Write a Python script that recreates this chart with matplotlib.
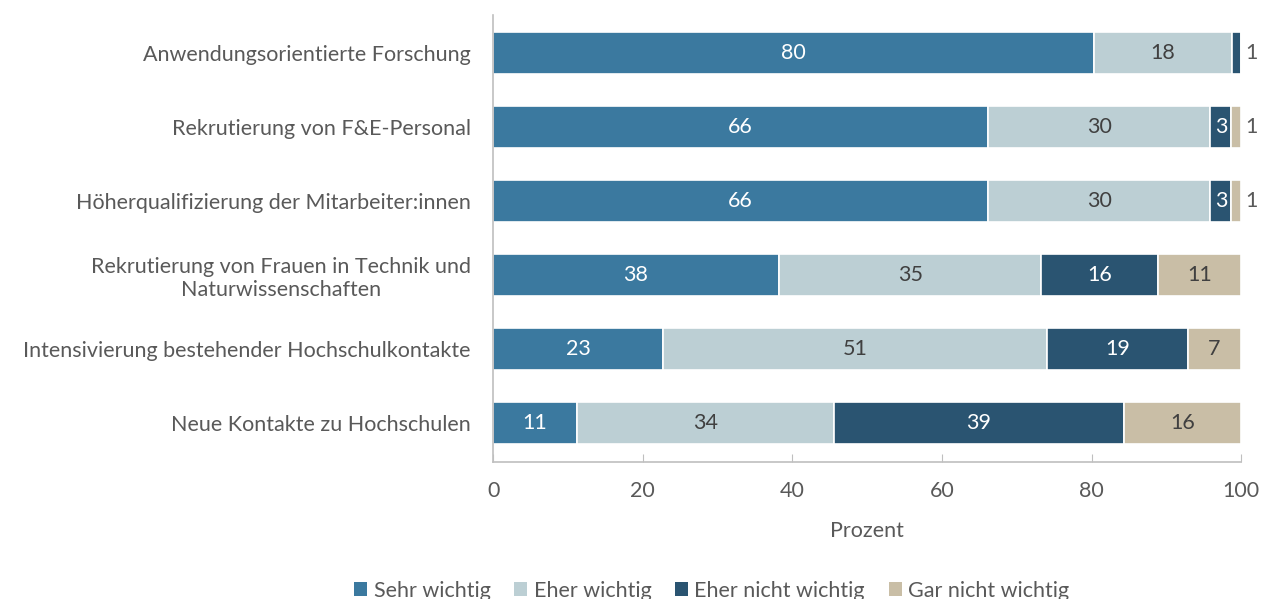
import numpy as np
import matplotlib.pyplot as plt
from matplotlib.patches import Patch

# Daten (Prozent)
kategorien = [
    "Anwendungsorientierte Forschung",
    "Rekrutierung von F&E-Personal",
    "Höherqualifizierung der Mitarbeiter:innen",
    "Rekrutierung von Frauen in Technik und\nNaturwissenschaften",
    "Intensivierung bestehender Hochschulkontakte",
    "Neue Kontakte zu Hochschulen",
]
sehr_wichtig = [80.3, 66.2, 66.2, 38.2, 22.7, 11.2]
eher_wichtig = [18.5, 29.7, 29.7, 35.1, 51.4, 34.4]
eher_nicht_wichtig = [1.2, 2.8, 2.8, 15.6, 18.8, 38.7]
gar_nicht_wichtig = [0.0, 1.3, 1.3, 11.1, 7.1, 15.7]

serien = ["Sehr wichtig", "Eher wichtig", "Eher nicht wichtig", "Gar nicht wichtig"]
farben = ["#3b799f", "#bccfd4", "#2a5471", "#c9bea6"]
textfarben = ["white", "#404040", "white", "#404040"]

plt.rcParams['font.family'] = ['Lato', 'DejaVu Sans']
grau = "#595959"
fs = 15.5

fig = plt.figure(figsize=(12.71, 5.99), dpi=100)
ax = fig.add_axes([0.388, 0.229, 0.5885, 0.746])

y = np.arange(len(kategorien))
links = np.zeros(len(kategorien))
werte = [sehr_wichtig, eher_wichtig, eher_nicht_wichtig, gar_nicht_wichtig]

for i, w in enumerate(werte):
    w = np.array(w)
    ax.barh(y, w, left=links, height=0.57, color=farben[i],
            edgecolor="white", linewidth=1.2)
    for j in range(len(y)):
        if w[j] <= 0:
            continue
        if w[j] < 2:
            # kleine Werte rechts neben den Balken
            ax.text(links[j] + w[j] + 0.6, y[j], "%.0f" % w[j], va="center",
                    ha="left", fontsize=fs, color=grau)
        else:
            ax.text(links[j] + w[j] / 2, y[j], "%.0f" % w[j], va="center",
                    ha="center", fontsize=fs, color=textfarben[i])
    links = links + w

ax.set_ylim(5.53, -0.52)
ax.set_xlim(0, 100)
ax.set_yticks(y)
ax.set_yticklabels(kategorien, fontsize=fs, color=grau, multialignment="center")
ax.tick_params(axis="y", length=0, pad=16)
ax.set_xticks([0, 20, 40, 60, 80, 100])
ax.tick_params(axis="x", direction="in", length=6, color="#bfbfbf",
               labelsize=fs, labelcolor=grau, pad=14)
ax.set_xlabel("Prozent", fontsize=fs, color=grau, labelpad=14)

for s in ["top", "right"]:
    ax.spines[s].set_visible(False)
ax.spines["left"].set_color("#bfbfbf")
ax.spines["bottom"].set_color("#bfbfbf")
ax.spines["left"].set_linewidth(1.2)
ax.spines["bottom"].set_linewidth(1.2)

handles = [Patch(facecolor=farben[i], edgecolor="none") for i in range(4)]
leg = fig.legend(handles, serien, loc="lower center", bbox_to_anchor=(0.56, -0.035),
                 ncol=4, frameon=False, fontsize=fs, handlelength=0.6,
                 handleheight=0.6, handletextpad=0.3, columnspacing=1.1)
for t in leg.get_texts():
    t.set_color(grau)

fig.savefig("out.png", dpi=100)
